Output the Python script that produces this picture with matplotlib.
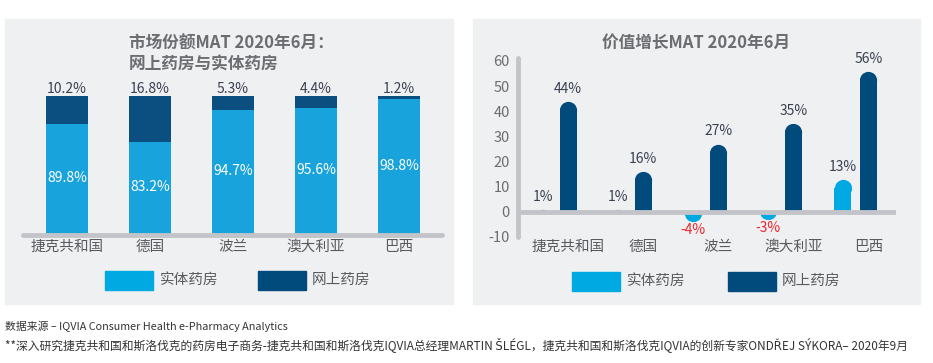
import numpy as np
import matplotlib
matplotlib.use("Agg")
import matplotlib.pyplot as plt
from matplotlib.patches import Rectangle

plt.rcParams['font.family'] = ['Noto Sans CJK SC', 'DejaVu Sans']
plt.rcParams['axes.unicode_minus'] = False

countries = ["捷克共和国", "德国", "波兰", "澳大利亚", "巴西"]
# share of market, MAT June 2020
offline_share = [89.8, 83.2, 94.7, 95.6, 98.8]
online_share = [10.2, 16.8, 5.3, 4.4, 1.2]
# value growth, MAT June 2020
offline_growth = [1, 1, -4, -3, 13]
online_growth = [44, 16, 27, 35, 56]
legend_labels = ["实体药房", "网上药房"]

LIGHT = "#18a3dc"
DARK = "#0b4e80"
PANEL = "#eff0f2"
AXIS = "#c3c4c9"
GRAY = "#595a5e"
TITLE = "#6b6d71"

W, H = 933, 363
fig = plt.figure(figsize=(W / 100, H / 100), dpi=100)


def fx(px):
    return px / W


def fy(py):
    return 1 - py / H


def box(l, t, r, b):
    return [fx(l), fy(b), fx(r) - fx(l), (b - t) / H]


# panel backgrounds
for l, r in [(5, 453), (473, 920)]:
    fig.patches.append(Rectangle((fx(l), fy(304)), fx(r) - fx(l), (304 - 19) / H,
                                 transform=fig.transFigure, color=PANEL, zorder=-10))

# ---------- left: market share ----------
ax1 = fig.add_axes(box(23, 96, 442, 234.5))
ax1.set_facecolor("none")
pos = np.arange(len(countries))
ybot = 50 - 2.5 / (136 / 50)
ax1.bar(pos, offline_share, 0.5, color=LIGHT, zorder=2)
ax1.bar(pos, online_share, 0.5, bottom=offline_share, color=DARK, zorder=2)
ax1.set_xlim(-0.53, 4.52)
ax1.set_ylim(ybot, 100)
ax1.axhline(ybot, color=AXIS, lw=3.5, solid_capstyle="round", clip_on=False, zorder=3)
for i in pos:
    ax1.text(i, 100, f"{online_share[i]}%", ha="center", va="bottom", fontsize=10,
             color="#3a4150")
    ax1.text(i, (50 + offline_share[i]) / 2, f"{offline_share[i]}%", ha="center",
             va="center", fontsize=10, color="white")
ax1.set_xticks(pos)
ax1.set_xticklabels(countries, fontsize=10.5, color=GRAY)
ax1.tick_params(axis="x", length=0, pad=4)
ax1.set_yticks([])
for s in ax1.spines.values():
    s.set_visible(False)

fig.text(fx(129), fy(44), "市场份额MAT 2020年6月：", fontsize=12, fontweight="bold",
         color=TITLE, va="center")
fig.text(fx(129), fy(65), "网上药房与实体药房", fontsize=12, fontweight="bold",
         color=TITLE, va="center")

# ---------- right: value growth ----------
ax2 = fig.add_axes(box(518, 61, 896, 237))
ax2.set_facecolor("none")
ax2.set_xlim(-0.5, 4.54)
ax2.set_ylim(-10, 60)
bw = 0.23
px_per_unit = 176 / 70
r_data = (bw * 75 / 2) / px_per_unit
msize = bw * 75 * 72 / 100


def round_bar(x, v, color):
    # bar with a rounded far end, clipped to the span 0..v
    end = v - np.sign(v) * r_data
    clip = Rectangle((x - bw / 2, min(0, v)), bw, abs(v), transform=ax2.transData)
    if abs(end) > 0 and np.sign(end) == np.sign(v):
        ax2.bar(x, end, bw, color=color, zorder=2)
    m, = ax2.plot([x], [end], "o", ms=msize, color=color, mew=0, zorder=2)
    m.set_clip_path(clip)


for i in pos:
    for dx, v, c in [(-0.17, offline_growth[i], "#00a9e2"), (0.17, online_growth[i], "#004a7c")]:
        round_bar(i + dx, v, c)
        if v >= 0:
            ax2.annotate(f"{v}%", (i + dx, v), xytext=(0, 4), textcoords="offset points",
                         ha="center", va="bottom", fontsize=10, color="#3a4150")
        else:
            ax2.annotate(f"{v}%", (i + dx, v), xytext=(0, -1), textcoords="offset points",
                         ha="center", va="top", fontsize=10, color="#e8262c")

ax2.axhline(0, color=AXIS, lw=3.5, solid_capstyle="round", zorder=3)
ax2.plot([-0.5, -0.5], [-10, 61], color=AXIS, lw=3.5, solid_capstyle="round",
         clip_on=False, zorder=3)
ax2.set_yticks(range(-10, 61, 10))
ax2.tick_params(axis="y", length=0, pad=6, labelsize=10.5, labelcolor=TITLE)
ax2.set_xticks(pos + 0.17)
ax2.set_xticklabels(countries, fontsize=10.5, color=GRAY)
ax2.tick_params(axis="x", length=0, pad=2)
for s in ax2.spines.values():
    s.set_visible(False)

fig.text(fx(696), fy(43), "价值增长MAT 2020年6月", fontsize=12, fontweight="bold",
         color=TITLE, ha="center", va="center")

# legends
for (p1, t1, p2, t2, yc) in [(105, 160, 258, 312, 280), (572, 627, 728, 782, 281)]:
    for p, t, c, lab in [(p1, t1, "#00a9e2", legend_labels[0]), (p2, t2, "#004a7c", legend_labels[1])]:
        fig.patches.append(Rectangle((fx(p), fy(yc + 9.5)), 48 / W, 19 / H,
                                     transform=fig.transFigure, color=c))
        fig.text(fx(t), fy(yc), lab, fontsize=10.5, color=GRAY, va="center")

# footnotes
fig.text(fx(5), fy(326), "数据来源 – IQVIA Consumer Health e-Pharmacy Analytics",
         fontsize=7.8, color="#333333", va="center")
fig.text(fx(5), fy(345), "**深入研究捷克共和国和斯洛伐克的药房电子商务-捷克共和国和斯洛伐克IQVIA总经理MARTIN ŠLÉGL，"
         "捷克共和国和斯洛伐克IQVIA的创新专家ONDŘEJ SÝKORA– 2020年9月",
         fontsize=8.5, color="#333333", va="center")

fig.savefig("out.png", dpi=100, facecolor="white")
